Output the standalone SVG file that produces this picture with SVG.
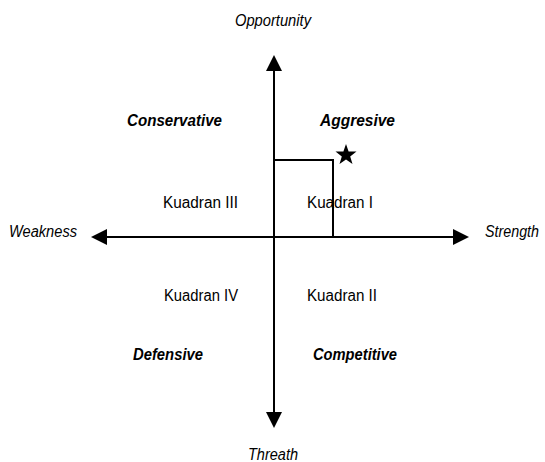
<svg xmlns="http://www.w3.org/2000/svg" width="545" height="462" viewBox="0 0 545 462">
<style>
text{font-family:"Liberation Sans",Arial,sans-serif;font-size:16px;fill:#000}
.ax{font-style:italic}
.q{font-style:italic;font-weight:bold}
.ln{stroke:#000;stroke-width:2;fill:none}
</style>
<defs>
<marker id="ah" viewBox="0 0 16 16" refX="0" refY="8" markerWidth="16" markerHeight="16" markerUnits="userSpaceOnUse" orient="auto"><path d="M0,0 L16,8 L0,16 Z" fill="#000"/></marker>
</defs>
<rect width="545" height="462" fill="#fff"/>
<g id="connectors">
<line class="ln" x1="274" y1="237" x2="274" y2="71" marker-end="url(#ah)"/>
<line class="ln" x1="274" y1="237" x2="274" y2="412" marker-end="url(#ah)"/>
<line class="ln" x1="274" y1="237" x2="107" y2="237" marker-end="url(#ah)"/>
<line class="ln" x1="274" y1="237" x2="453" y2="237" marker-end="url(#ah)"/>
<polyline class="ln" points="274,160 333,160 333,237"/>
</g>
<g id="star"><polygon points="346,144 348.6,151.4 356.5,151.6 350.2,156.4 352.5,163.9 346,159.4 339.5,163.9 341.8,156.4 335.5,151.6 343.4,151.4" fill="#000"/></g>
<g id="opportunity"><text class="ax" x="235" y="26" textLength="76" lengthAdjust="spacingAndGlyphs">Opportunity</text></g>
<g id="threath"><text class="ax" x="248" y="460" textLength="50" lengthAdjust="spacingAndGlyphs">Threath</text></g>
<g id="weakness"><text class="ax" x="9" y="237" textLength="68" lengthAdjust="spacingAndGlyphs">Weakness</text></g>
<g id="strength"><text class="ax" x="485" y="237" textLength="54" lengthAdjust="spacingAndGlyphs">Strength</text></g>
<g id="conservative"><text class="q" x="127" y="126" textLength="95" lengthAdjust="spacingAndGlyphs">Conservative</text></g>
<g id="aggresive"><text class="q" x="320" y="126" textLength="75" lengthAdjust="spacingAndGlyphs">Aggresive</text></g>
<g id="defensive"><text class="q" x="133" y="360" textLength="70" lengthAdjust="spacingAndGlyphs">Defensive</text></g>
<g id="competitive"><text class="q" x="313" y="360" textLength="84" lengthAdjust="spacingAndGlyphs">Competitive</text></g>
<g id="k3"><text x="163" y="208" textLength="75" lengthAdjust="spacingAndGlyphs">Kuadran III</text></g>
<g id="k1"><text x="307" y="208" textLength="66" lengthAdjust="spacingAndGlyphs">Kuadran I</text></g>
<g id="k4"><text x="164" y="301" textLength="74" lengthAdjust="spacingAndGlyphs">Kuadran IV</text></g>
<g id="k2"><text x="307" y="301" textLength="70" lengthAdjust="spacingAndGlyphs">Kuadran II</text></g>
</svg>
